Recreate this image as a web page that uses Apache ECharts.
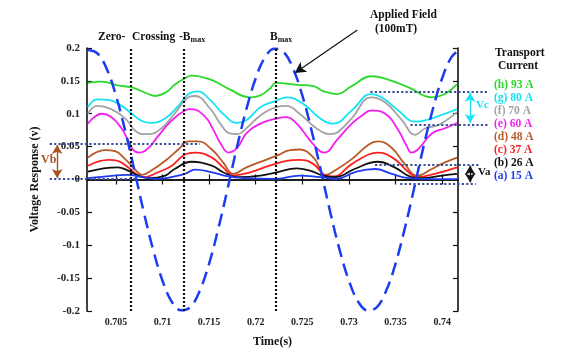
<!DOCTYPE html>
<html><head><meta charset="utf-8">
<script src="https://cdn.jsdelivr.net/npm/echarts@6/dist/echarts.min.js"></script>
<style>html,body{margin:0;padding:0;background:#fff}#c{width:562px;height:353px}</style>
</head><body><div id="c"></div>
<script>
// ---------------- DATA ----------------
const xTicks = [0.705, 0.71, 0.715, 0.72, 0.725, 0.73, 0.735, 0.74];
const xTickLabels = ['0.705', '0.71', '0.715', '0.72', '0.725', '0.73', '0.735', '0.74'];
const yTickLabels = ['-0.2', '-0.15', '-0.1', '-0.05', '0', '0.05', '0.1', '0.15', '0.2'];
const seriesNames = ['(h) 93 A', '(g) 80 A', '(f) 70 A', '(e) 60 A', '(d) 48 A', '(c) 37 A', '(b) 26 A', '(a) 15 A'];

const curveH = [[0.7020,0.147],[0.7035,0.149],[0.7052,0.143],[0.7067,0.140],[0.7085,0.130],[0.7092,0.127],[0.7103,0.132],[0.7113,0.144],[0.7124,0.154],[0.7131,0.158],[0.7153,0.151],[0.7172,0.137],[0.7194,0.125],[0.7205,0.128],[0.7215,0.138],[0.7222,0.147],[0.7244,0.144],[0.7262,0.142],[0.7272,0.1345],[0.7287,0.130],[0.7303,0.142],[0.7324,0.157],[0.7342,0.152],[0.7364,0.140],[0.7389,0.125],[0.7403,0.130],[0.7416,0.145]];
const curveG = [[0.7020,0.110],[0.7030,0.122],[0.7042,0.121],[0.7056,0.112],[0.7067,0.100],[0.7078,0.089],[0.7088,0.086],[0.7103,0.093],[0.7117,0.112],[0.7128,0.130],[0.7138,0.134],[0.7151,0.121],[0.7165,0.100],[0.7180,0.086],[0.7190,0.090],[0.7205,0.110],[0.7222,0.120],[0.7233,0.125],[0.7251,0.115],[0.7269,0.093],[0.7283,0.085],[0.7303,0.105],[0.7324,0.130],[0.7335,0.125],[0.7353,0.105],[0.7371,0.088],[0.7382,0.090],[0.7403,0.100],[0.7416,0.107]];
const curveF = [[0.7020,0.100],[0.7030,0.112],[0.7045,0.107],[0.7060,0.093],[0.7070,0.075],[0.7078,0.069],[0.7085,0.069],[0.7099,0.078],[0.7113,0.100],[0.7128,0.125],[0.7135,0.127],[0.7151,0.108],[0.7162,0.085],[0.7172,0.070],[0.7180,0.069],[0.7190,0.078],[0.7205,0.0975],[0.7222,0.110],[0.7233,0.112],[0.7247,0.100],[0.7265,0.078],[0.7280,0.069],[0.7288,0.072],[0.7303,0.093],[0.7324,0.125],[0.7339,0.117],[0.7357,0.090],[0.7371,0.068],[0.7382,0.078],[0.7396,0.083],[0.7416,0.1025]];
const curveE = [[0.7020,0.085],[0.7035,0.100],[0.7045,0.095],[0.7056,0.078],[0.7063,0.060],[0.7070,0.043],[0.7076,0.041],[0.7085,0.048],[0.7095,0.0655],[0.7110,0.090],[0.7124,0.105],[0.7131,0.107],[0.7146,0.095],[0.7154,0.077],[0.7162,0.0556],[0.7171,0.041],[0.7180,0.048],[0.7190,0.070],[0.7205,0.085],[0.7222,0.0926],[0.7233,0.095],[0.7244,0.085],[0.7258,0.060],[0.7269,0.043],[0.7274,0.041],[0.7287,0.060],[0.7303,0.085],[0.7314,0.0975],[0.7324,0.105],[0.7339,0.100],[0.7353,0.075],[0.7362,0.0507],[0.7367,0.041],[0.7374,0.0456],[0.7389,0.070],[0.7403,0.078],[0.7416,0.086]];
const curveD = [[0.7020,0.0333],[0.7038,0.0447],[0.7049,0.043],[0.7060,0.031],[0.7070,0.016],[0.7078,0.007],[0.7088,0.0136],[0.7103,0.0284],[0.7117,0.0456],[0.7128,0.058],[0.7138,0.058],[0.7153,0.0456],[0.7165,0.026],[0.7176,0.0086],[0.7190,0.0185],[0.7208,0.0284],[0.7222,0.0358],[0.7237,0.0447],[0.7247,0.0456],[0.7262,0.0333],[0.7275,0.007],[0.7285,0.0136],[0.7303,0.031],[0.7321,0.053],[0.7331,0.058],[0.7346,0.048],[0.7360,0.0234],[0.7373,0.006],[0.7389,0.016],[0.7403,0.026],[0.7416,0.0333]];
const curveC = [[0.7020,0.021],[0.7042,0.030],[0.7052,0.0284],[0.7063,0.0185],[0.7074,0.006],[0.7081,0.0037],[0.7095,0.011],[0.7110,0.021],[0.7124,0.038],[0.7135,0.041],[0.7153,0.0333],[0.7165,0.0185],[0.7176,0.006],[0.7194,0.011],[0.7215,0.021],[0.7233,0.0284],[0.7247,0.030],[0.7262,0.0234],[0.7275,0.006],[0.7283,0.0047],[0.7303,0.0234],[0.7321,0.038],[0.7331,0.041],[0.7349,0.031],[0.7364,0.011],[0.7373,0.0037],[0.7392,0.0086],[0.7416,0.0185]];
const curveB = [[0.7020,0.012],[0.7052,0.0185],[0.7063,0.0136],[0.7074,0.006],[0.7085,0.002],[0.7103,0.006],[0.7113,0.016],[0.7131,0.027],[0.7153,0.021],[0.7165,0.011],[0.7180,0.0037],[0.7205,0.006],[0.7222,0.011],[0.7244,0.017],[0.7258,0.0136],[0.7272,0.006],[0.7285,0.0037],[0.7306,0.016],[0.7331,0.027],[0.7349,0.0185],[0.7367,0.0037],[0.7378,0.002],[0.7400,0.006],[0.7416,0.0086]];
const curveA = [[0.7020,0.002],[0.7035,0.004],[0.7063,0.007],[0.7078,0.0037],[0.7095,0.001],[0.7124,0.0086],[0.7135,0.015],[0.7153,0.011],[0.7169,0.005],[0.7187,0.002],[0.7222,0.001],[0.7247,0.006],[0.7269,0.0037],[0.7287,0.001],[0.7306,0.011],[0.7328,0.016],[0.7346,0.0086],[0.7364,0.002],[0.7392,0.0007],[0.7416,0.0007]];

// applied field (dashed)
const fieldTime = [0.702,0.703,0.704,0.705,0.706,0.707,0.708,0.709,0.710,0.711,0.712,0.713,0.714,0.715,0.716,0.717,0.718,0.719,0.720,0.721,0.722,0.723,0.724,0.725,0.726,0.727,0.728,0.729,0.730,0.731,0.732,0.733,0.734,0.735,0.736,0.737,0.738,0.739,0.740,0.741,0.742];
const fieldVolt = [0.197,0.192,0.169,0.128,0.074,0.013,-0.050,-0.107,-0.154,-0.186,-0.199,-0.194,-0.169,-0.128,-0.074,-0.013,0.050,0.107,0.154,0.186,0.199,0.194,0.169,0.128,0.074,0.013,-0.050,-0.107,-0.154,-0.186,-0.199,-0.194,-0.169,-0.128,-0.074,-0.013,0.050,0.107,0.154,0.186,0.199];

// vertical markers: zero crossing, -Bmax, Bmax
const markerTimes = [0.7066, 0.7123, 0.7222];

// annotation reference levels (in data units)
const vbLevels = [0.0578, 0.0058];
const vcLevels = [0.1356, 0.0865];
const vaLevels = [0.0270, -0.0016];

// ---------------- LAYOUT ----------------
const X_MIN = 0.7019, X_MAX = 0.7417, Y_MIN = -0.2, Y_MAX = 0.2;
const W = 562, H = 353;
const G = {left: 87, right: 104, top: 48, bottom: 36};
const pw = W - G.left - G.right, ph = H - G.top - G.bottom;
const kx = (X_MAX - X_MIN) / pw, ky = (Y_MAX - Y_MIN) / ph;
const EX_MIN = X_MIN - G.left * kx, EX_MAX = X_MAX + G.right * kx;
const EY_MIN = Y_MIN - G.bottom * ky, EY_MAX = Y_MAX + G.top * ky;
const FONT = '"Liberation Serif", "Times New Roman", serif';
const colors = ['#2bd92b', '#14e3f5', '#a3a3a3', '#f51ef0', '#b85a26', '#ff2020', '#111111', '#1f3cf0'];
const curves = [curveH, curveG, curveF, curveE, curveD, curveC, curveB, curveA];

const chart = echarts.init(document.getElementById('c'), null, {renderer: 'canvas'});

const curveSeries = curves.map((d, i) => ({
  name: seriesNames[i], type: 'line', data: d, smooth: 0.45,
  showSymbol: false, symbol: 'none', xAxisIndex: 0, yAxisIndex: 0,
  lineStyle: {color: colors[i], width: 1.8}, itemStyle: {color: colors[i]}, z: 3, silent: true
}));

function hLine(t1, t2, v, color) {
  return [{coord: [t1, v], symbol: 'none', lineStyle: {color: color || '#3a4f9a', type: 'dotted', width: 2.2}},
          {coord: [t2, v], symbol: 'none'}];
}
function vArrow(t, v1, v2, color) {
  return [{coord: [t, v1], symbol: 'arrow', symbolSize: [8, 9], lineStyle: {color: color, type: 'solid', width: 1.4}},
          {coord: [t, v2], symbol: 'arrow', symbolSize: [8, 9]}];
}

const annotationSeries = {
  name: 'annotations', type: 'line', xAxisIndex: 2, yAxisIndex: 2,
  data: [], showSymbol: false, silent: true, z: 5,
  markLine: {
    silent: true, animation: false, precision: 6, label: {show: false}, symbol: ['none', 'none'],
    data: [
      hLine(0.6979, 0.7140, vbLevels[0]),
      hLine(0.6979, 0.7071, vbLevels[1]),
      hLine(0.7323, 0.7449, vcLevels[0]),
      hLine(0.7366, 0.7449, vcLevels[1]),
      hLine(0.7328, 0.7441, vaLevels[0]),
      hLine(0.7355, 0.7436, vaLevels[1]),
      vArrow(0.6987, vbLevels[0] - 0.002, vbLevels[1] + 0.001, '#a8521e'),
      vArrow(0.7430, vcLevels[0] - 0.002, vcLevels[1] + 0.002, '#14e3f5'),
      vArrow(0.7430, vaLevels[0] - 0.002, vaLevels[1] + 0.002, '#111111'),
      [{coord: [0.7309, 0.2268], symbol: 'none', lineStyle: {color: '#111', type: 'solid', width: 1.2}},
       {coord: [0.7242, 0.1628], symbol: 'arrow', symbolSize: [9, 11]}]
    ]
  }
};

const fieldSeries = {
  name: 'field', type: 'line', xAxisIndex: 0, yAxisIndex: 0,
  data: fieldTime.map((t, i) => [t, fieldVolt[i]]), smooth: 0.4, showSymbol: false, silent: true,
  lineStyle: {color: '#1b3df2', width: 2.5, type: [13, 7]}, z: 4,
  markLine: {
    silent: true, animation: false, precision: 6, symbol: ['none', 'none'], label: {show: false},
    lineStyle: {color: '#111', type: [2, 2], width: 2.2},
    data: markerTimes.map(t => ({xAxis: t}))
  }
};

const boldTxt = (text, x, y, extra) => ({
  type: 'text', x: x, y: y, silent: true,
  style: Object.assign({text: text, font: 'bold 11.5px ' + FONT, fill: '#111', textVerticalAlign: 'middle'}, extra || {})
});

const option = {
  animation: false,
  backgroundColor: '#fff',
  grid: [
    {left: G.left, right: G.right, top: G.top, bottom: G.bottom, containLabel: false},
    {left: 0, right: 0, top: 0, bottom: 0, containLabel: false}
  ],
  xAxis: [
    {type: 'value', gridIndex: 0, min: X_MIN, max: X_MAX, position: 'bottom',
     name: 'Time(s)', nameLocation: 'middle', nameGap: 25,
     nameTextStyle: {fontFamily: FONT, fontWeight: 'bold', fontSize: 12, color: '#111'},
     axisLine: {show: true, lineStyle: {color: '#111', width: 1.6}},
     axisTick: {show: true, inside: true, length: 5, customValues: xTicks, lineStyle: {color: '#111', width: 1.2}},
     axisLabel: {show: true, customValues: xTicks, margin: 6, fontFamily: FONT, fontWeight: 'bold', fontSize: 10, color: '#222',
                 formatter: v => xTickLabels[xTicks.findIndex(t => Math.abs(t - v) < 1e-6)] || ''},
     splitLine: {show: false}},
    {type: 'value', gridIndex: 0, min: X_MIN, max: X_MAX, position: 'top',
     axisLine: {show: true, lineStyle: {color: '#111', width: 1.6}},
     axisTick: {show: true, inside: true, length: 5, customValues: xTicks, lineStyle: {color: '#111', width: 1.2}},
     axisLabel: {show: false}, splitLine: {show: false}},
    {type: 'value', gridIndex: 1, min: EX_MIN, max: EX_MAX, show: false}
  ],
  yAxis: [
    {type: 'value', gridIndex: 0, min: Y_MIN, max: Y_MAX, interval: 0.05, position: 'left',
     name: 'Voltage Response (v)', nameLocation: 'middle', nameGap: 46,
     nameTextStyle: {fontFamily: FONT, fontWeight: 'bold', fontSize: 12, color: '#111'},
     axisLine: {show: true, lineStyle: {color: '#111', width: 1.6}},
     axisTick: {show: true, inside: true, length: 5, lineStyle: {color: '#111', width: 1.2}},
     axisLabel: {margin: 7, fontFamily: FONT, fontWeight: 'bold', fontSize: 11, color: '#222',
                 formatter: (v, i) => yTickLabels[i]},
     splitLine: {show: false}},
    {type: 'value', gridIndex: 0, min: Y_MIN, max: Y_MAX, interval: 0.05, position: 'right',
     axisLine: {show: true, lineStyle: {color: '#111', width: 1.6}},
     axisTick: {show: true, inside: true, length: 5, lineStyle: {color: '#111', width: 1.2}},
     axisLabel: {show: false}, splitLine: {show: false}},
    {type: 'value', gridIndex: 1, min: EY_MIN, max: EY_MAX, show: false}
  ],
  legend: {
    orient: 'vertical', left: 489, top: 79, itemGap: 0, itemWidth: 0, itemHeight: 13,
    selectedMode: false, icon: 'rect', padding: 0,
    textStyle: {fontFamily: FONT, fontWeight: 'bold', fontSize: 11.5, lineHeight: 13},
    data: seriesNames.map((n, i) => ({name: n, textStyle: {color: colors[i]}}))
  },
  series: [...curveSeries, fieldSeries, annotationSeries],
  graphic: [
    boldTxt('Zero-', 98, 37),
    boldTxt('Crossing', 132, 37),
    {type: 'text', x: 179, y: 37, silent: true, style: {text: '-B{s|max}', font: 'bold 11.5px ' + FONT, fill: '#111', textVerticalAlign: 'middle',
      rich: {s: {font: 'bold 8px ' + FONT, fill: '#111', padding: [6, 0, 0, 0]}}}},
    {type: 'text', x: 270, y: 37, silent: true, style: {text: 'B{s|max}', font: 'bold 11.5px ' + FONT, fill: '#111', textVerticalAlign: 'middle',
      rich: {s: {font: 'bold 8px ' + FONT, fill: '#111', padding: [6, 0, 0, 0]}}}},
    boldTxt('Applied Field', 370, 15),
    boldTxt('(100mT)', 375, 29),
    boldTxt('Transport', 495, 53),
    boldTxt('Current', 498, 66),
    boldTxt('Vb', 41, 160, {fill: '#a8521e', font: 'bold 12px ' + FONT}),
    boldTxt('Vc', 476, 105, {fill: '#14e3f5', font: 'bold 11px ' + FONT}),
    boldTxt('Va', 478, 172, {fill: '#111', font: 'bold 11px ' + FONT})
  ]
};
chart.setOption(option);
</script>
</body></html>
